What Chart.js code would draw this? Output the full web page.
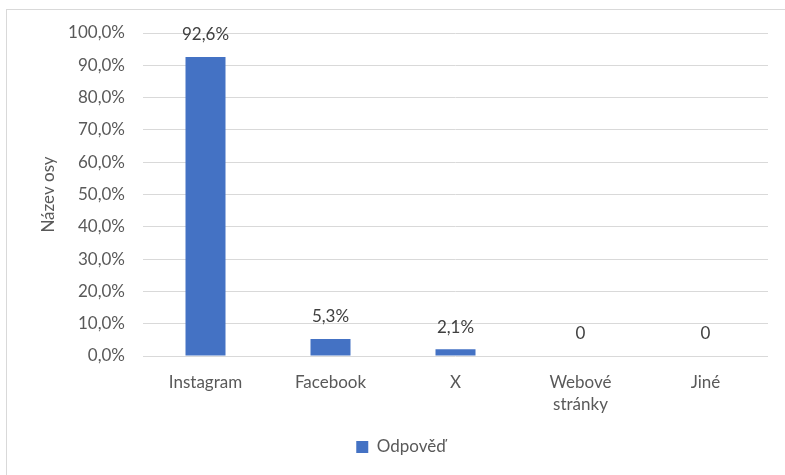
<!DOCTYPE html>
<html>
<head>
<meta charset="utf-8">
<script src="https://cdn.jsdelivr.net/npm/chart.js@4"></script>
<style>
  html, body { margin: 0; padding: 0; background: #fff; overflow: hidden; }
  #wrap { position: relative; width: 785px; height: 475px; }
  #frame { position: absolute; left: 6px; top: 9px; width: 820px; height: 520px; border: 1px solid #d9d9d9; }
  canvas { position: absolute; left: 0; top: 0; }
</style>
</head>
<body>
<div id="wrap">
  <div id="frame"></div>
  <canvas id="chart" width="785" height="475"></canvas>
</div>
<script>
// data
const categories = ['Instagram', 'Facebook', 'X', ['Webové', 'stránky'], 'Jiné'];
const values = [92.6, 5.3, 2.1, 0, 0];
const seriesName = 'Odpověď';
const yTicks = [0, 10, 20, 30, 40, 50, 60, 70, 80, 90, 100];

const FONT = 'Lato';
const SIZE = 17;
const fmt = v => v.toFixed(1).replace('.', ',') + '%';

// value labels above the bars, Excel style
const barLabels = {
  id: 'barLabels',
  afterDatasetsDraw(chart) {
    const ctx = chart.ctx;
    const meta = chart.getDatasetMeta(0);
    ctx.save();
    ctx.font = SIZE + 'px ' + FONT;
    ctx.fillStyle = '#404040';
    ctx.textAlign = 'center';
    ctx.textBaseline = 'middle';
    meta.data.forEach((bar, i) => {
      const v = values[i];
      ctx.fillText(v === 0 ? '0' : fmt(v), bar.x, bar.y - 22);
    });
    ctx.restore();
  }
};

new Chart(document.getElementById('chart'), {
  type: 'bar',
  data: {
    labels: categories,
    datasets: [{
      label: seriesName,
      data: values,
      backgroundColor: '#4472C4',
      categoryPercentage: 0.32,
      barPercentage: 1
    }]
  },
  options: {
    responsive: false,
    animation: false,
    layout: { padding: { left: 34, right: 17, top: 33, bottom: 9.5 } },
    scales: {
      x: {
        grid: { display: false, drawTicks: false },
        border: { display: false },
        ticks: { color: '#595959', font: { family: FONT, size: SIZE, lineHeight: 1.3 }, padding: 15, maxRotation: 0 },
        afterFit(s) { s.height = 72.5; }
      },
      y: {
        min: 0, max: 100,
        afterBuildTicks(s) { s.ticks = yTicks.map(v => ({ value: v })); },
        grid: { color: '#d9d9d9', drawTicks: false },
        border: { display: false },
        ticks: { color: '#595959', font: { family: FONT, size: SIZE }, padding: 18, callback: v => fmt(v) },
        title: { display: true, text: 'Název osy', color: '#595959', font: { family: FONT, size: SIZE } },
        afterFit(s) { s.width = 109; }
      }
    },
    plugins: {
      legend: {
        position: 'bottom',
        labels: { color: '#595959', font: { family: FONT, size: SIZE }, boxWidth: 12, boxHeight: 12, padding: 10 }
      },
      tooltip: { enabled: false }
    }
  },
  plugins: [barLabels]
});
</script>
</body>
</html>
